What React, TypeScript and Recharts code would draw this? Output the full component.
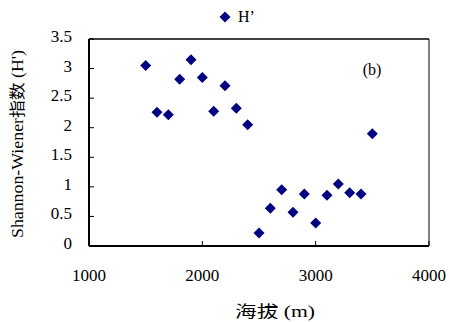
import React from 'react';
import { ScatterChart, Scatter, XAxis, YAxis, ReferenceLine, Legend, Label } from 'recharts';

const altitude = [1500, 1600, 1700, 1800, 1900, 2000, 2100, 2200, 2300, 2400, 2500, 2600, 2700, 2800, 2900, 3000, 3100, 3200, 3300, 3400, 3500];
const shannon = [3.05, 2.26, 2.22, 2.82, 3.15, 2.85, 2.28, 2.71, 2.33, 2.05, 0.22, 0.64, 0.95, 0.57, 0.88, 0.39, 0.86, 1.05, 0.9, 0.88, 1.9];
const xTicks = [1000, 2000, 3000, 4000];
const yTicks = [0, 0.5, 1, 1.5, 2, 2.5, 3, 3.5];
const seriesName = 'H’';
const xTitle = '海拔 (m)';
const yTitle = "Shannon-Wiener指数 (H')";
const panelTag = '(b)';

const data = altitude.map((a, i) => ({ x: a, y: shannon[i] }));

const COLOR = '#000080';
const SERIF = '"Liberation Serif", "Times New Roman", "Noto Sans CJK SC", serif';

const Diamond = (props: any) => {
  const { cx, cy } = props;
  const r = 5.5;
  return (
    <polygon
      points={`${cx},${cy - r} ${cx + r},${cy} ${cx},${cy + r} ${cx - r},${cy}`}
      fill={COLOR}
    />
  );
};

const LegendContent = () => (
  <div style={{ display: 'flex', alignItems: 'center', fontFamily: SERIF, fontSize: 16, color: '#000', lineHeight: '18px' }}>
    <svg width={12} height={12} style={{ marginRight: 7 }}>
      <polygon points="6,0.5 11.5,6 6,11.5 0.5,6" fill={COLOR} />
    </svg>
    <span>{seriesName}</span>
  </div>
);

export default function App() {
  return (
    <div style={{ position: 'absolute', left: 0, top: 0 }}>
      <ScatterChart width={450} height={322} margin={{ top: 39, right: 21, bottom: 0, left: 0 }}>
        <XAxis
          type="number"
          dataKey="x"
          domain={[1000, 4000]}
          ticks={xTicks}
          height={76}
          tickSize={-5}
          tickMargin={28}
          axisLine={{ stroke: '#000', strokeWidth: 2 }}
          tickLine={{ stroke: '#000', strokeWidth: 1 }}
          tick={{ fill: '#000', fontSize: 17, fontFamily: SERIF }}
          interval={0}
        >
          <Label
            content={(p: any) => {
              const vb = p.viewBox;
              return (
                <text
                  x={vb.x + vb.width / 2 + 16}
                  y={vb.y + vb.height - 5}
                  textAnchor="middle"
                  fontSize={16}
                  fontFamily={SERIF}
                  fill="#000"
                  textLength={80}
                  lengthAdjust="spacingAndGlyphs"
                >
                  {xTitle}
                </text>
              );
            }}
          />
        </XAxis>
        <YAxis
          type="number"
          dataKey="y"
          domain={[0, 3.5]}
          ticks={yTicks}
          width={89}
          tickSize={-5}
          tickMargin={22}
          axisLine={{ stroke: '#000', strokeWidth: 2 }}
          tickLine={{ stroke: '#000', strokeWidth: 1 }}
          tick={{ fill: '#000', fontSize: 17, fontFamily: SERIF, dy: -3 }}
          interval={0}
        >
          <Label
            content={(p: any) => {
              const vb = p.viewBox;
              const cx = 23;
              const cy = vb.y + vb.height / 2 + 1.5;
              return (
                <text
                  x={cx}
                  y={cy}
                  transform={`rotate(-90, ${cx}, ${cy})`}
                  textAnchor="middle"
                  fontSize={16}
                  fontFamily={SERIF}
                  fill="#000"
                  textLength={188}
                  lengthAdjust="spacingAndGlyphs"
                >
                  {yTitle}
                </text>
              );
            }}
          />
        </YAxis>
        <ReferenceLine y={3.5} stroke="#000" strokeWidth={1.3} ifOverflow="visible" />
        <ReferenceLine x={4000} stroke="#000" strokeWidth={1} ifOverflow="visible" />
        <ReferenceLine
          y={3.5}
          stroke="none"
          ifOverflow="visible"
          label={(p: any) => {
            const vb = p.viewBox;
            return (
              <text x={vb.x + vb.width - 57} y={vb.y + 36} textAnchor="middle" fontSize={16} fontFamily={SERIF} fill="#000">
                {panelTag}
              </text>
            );
          }}
        />
        <Legend
          verticalAlign="middle"
          layout="horizontal"
          content={LegendContent}
          wrapperStyle={{ position: 'absolute', top: 8, left: 219, width: 'auto' }}
        />
        <Scatter name={seriesName} data={data} fill={COLOR} shape={Diamond} isAnimationActive={false} />
      </ScatterChart>
    </div>
  );
}
